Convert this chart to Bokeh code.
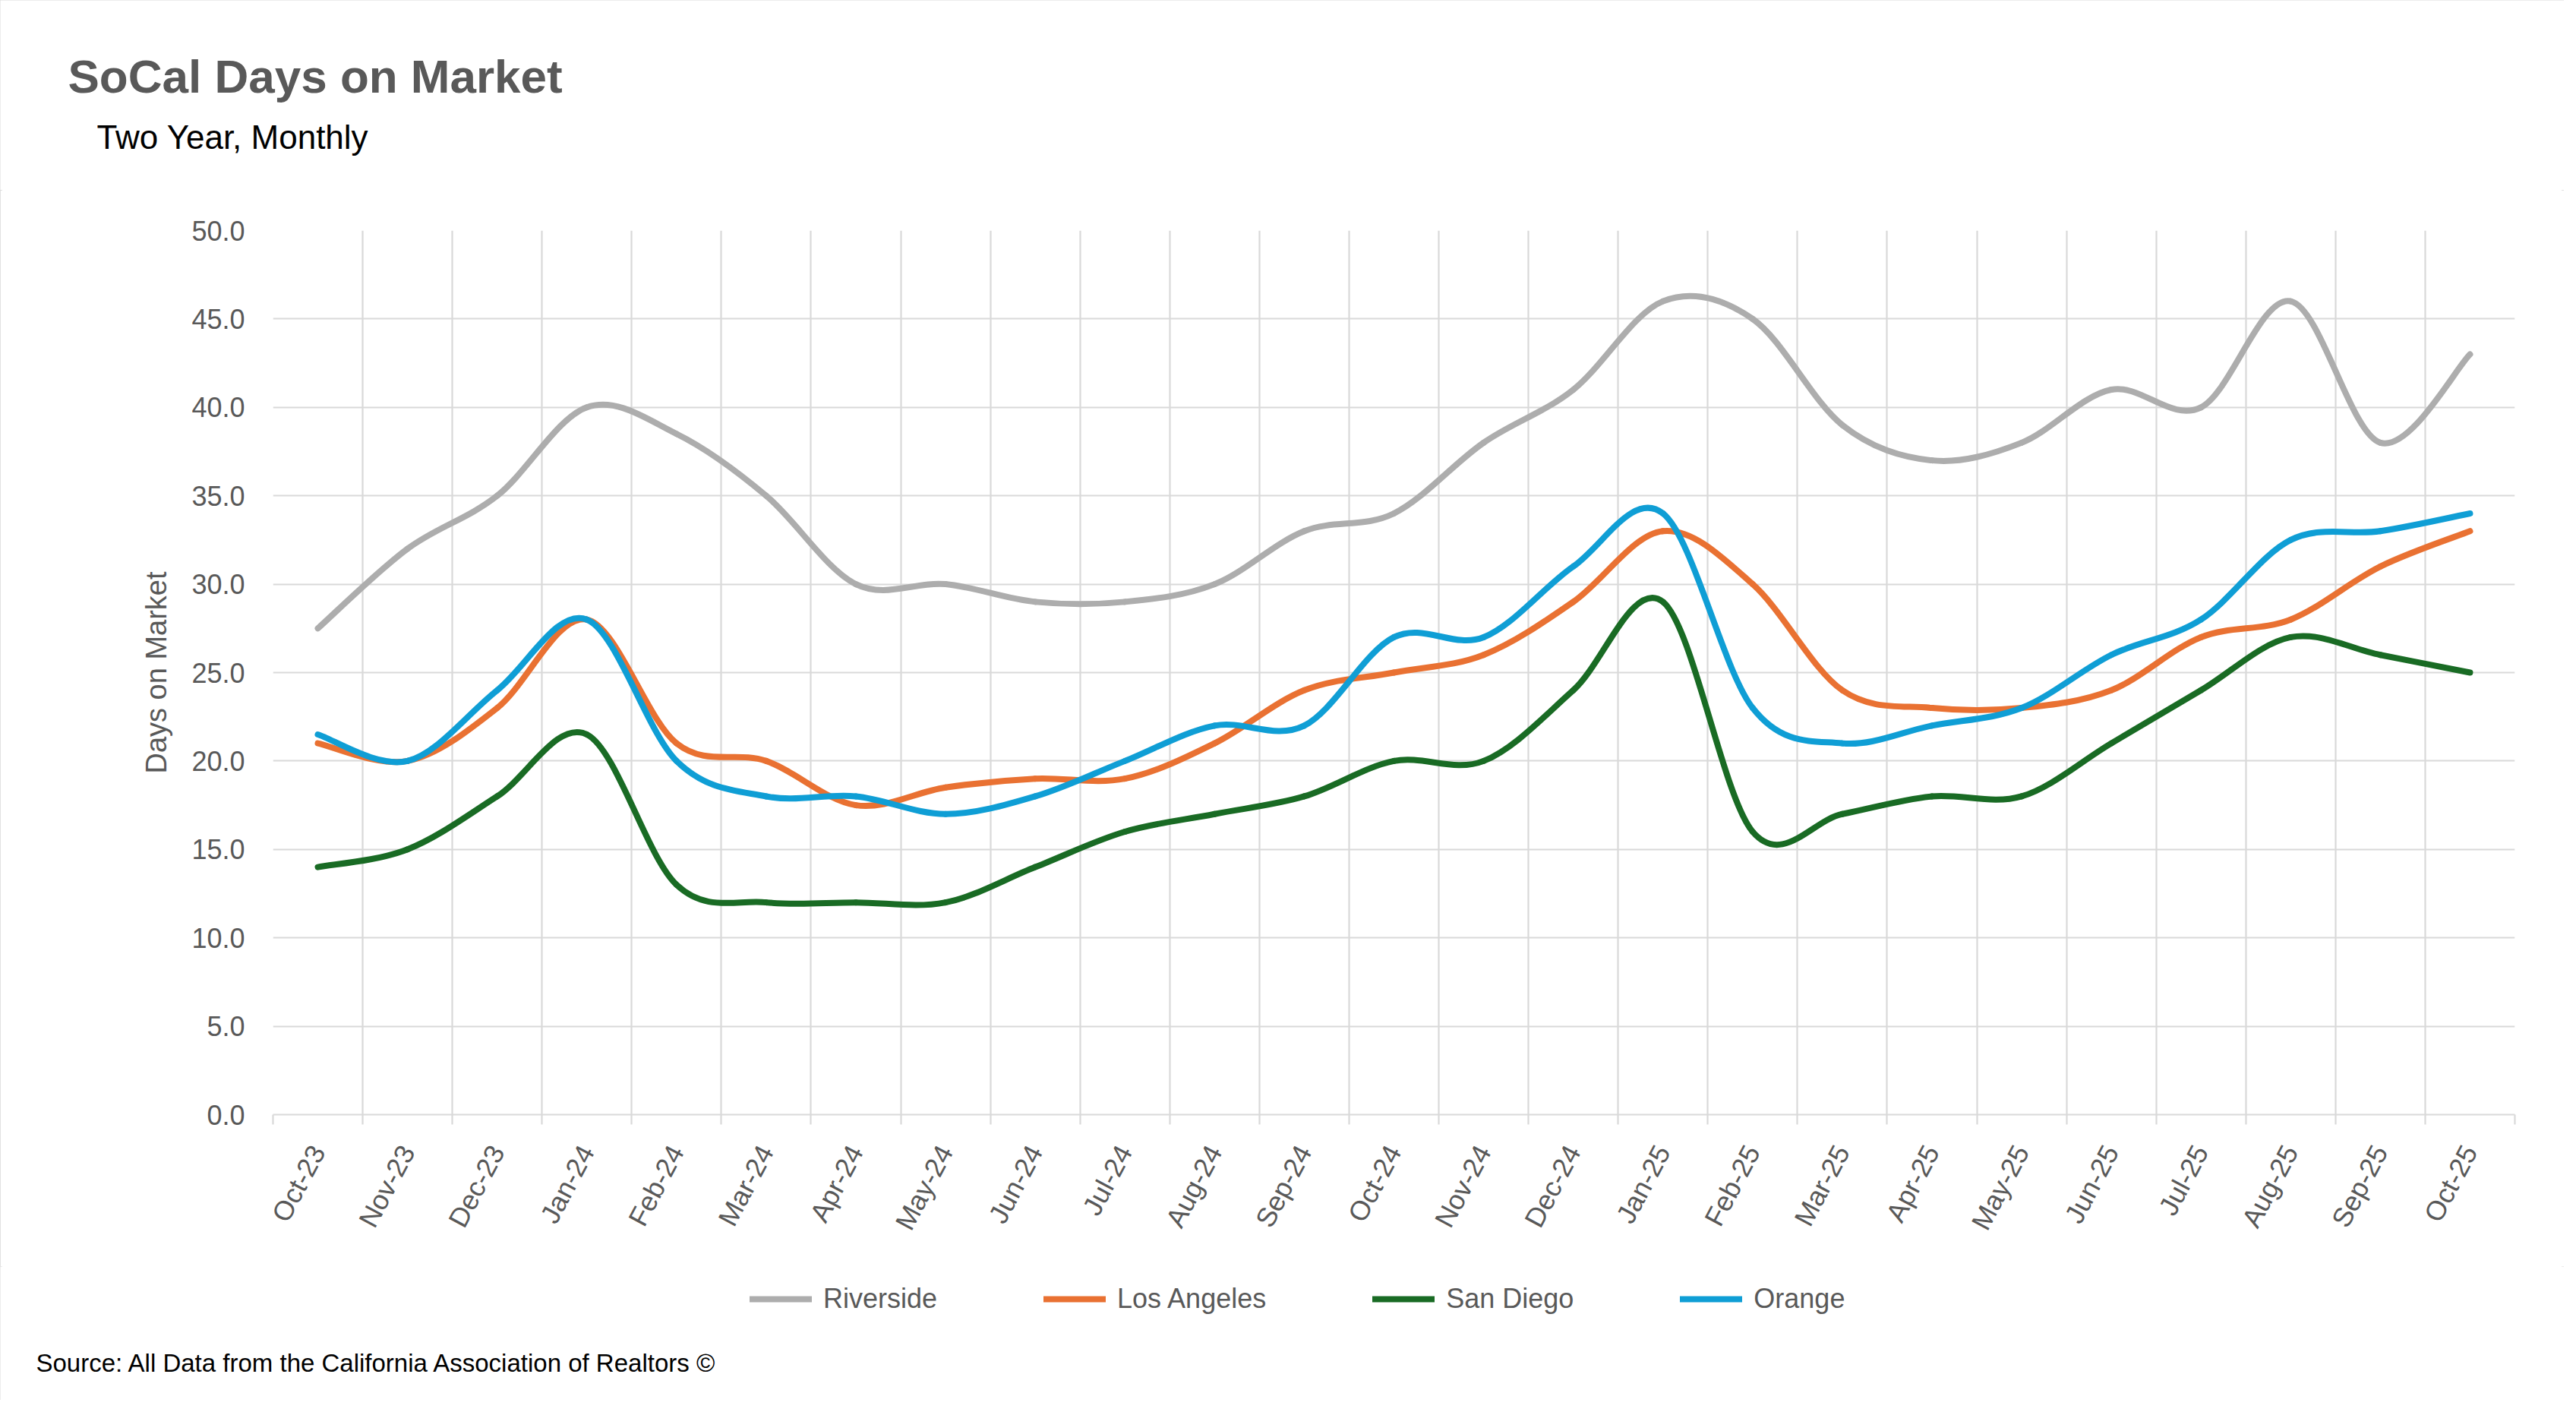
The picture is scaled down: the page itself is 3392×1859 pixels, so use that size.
import math
from bokeh.plotting import figure
from bokeh.layouts import column
from bokeh.models import (FixedTicker, Label, Legend, LegendItem, PrintfTickFormatter, Range1d)
from bokeh.embed import file_html
from bokeh.resources import INLINE

# ---------------- data ----------------
months = ["Oct-23", "Nov-23", "Dec-23", "Jan-24", "Feb-24", "Mar-24", "Apr-24", "May-24",
          "Jun-24", "Jul-24", "Aug-24", "Sep-24", "Oct-24", "Nov-24", "Dec-24", "Jan-25",
          "Feb-25", "Mar-25", "Apr-25", "May-25", "Jun-25", "Jul-25", "Aug-25", "Sep-25", "Oct-25"]

riverside = [27.5, 32, 35, 40, 38.5, 35, 30, 30, 29, 29, 30, 33, 34, 38, 41, 46,
             45, 39, 37, 38, 41, 40, 46, 38, 43]
los_angeles = [21, 20, 23, 28, 21, 20, 17.5, 18.5, 19, 19, 21, 24, 25, 26, 29, 33,
               30, 24, 23, 23, 24, 27, 28, 31, 33]
san_diego = [14, 15, 18, 21.5, 13, 12, 12, 12, 14, 16, 17, 18, 20, 20, 24, 29,
             16, 17, 18, 18, 21, 24, 27, 26, 25]
orange = [21.5, 20, 24, 28, 20, 18, 18, 17, 18, 20, 22, 22, 27, 27, 31, 34,
          23, 21, 22, 23, 26, 28, 32.5, 33, 34]

series_names = ["Riverside", "Los Angeles", "San Diego", "Orange"]
series_values = [riverside, los_angeles, san_diego, orange]
series_colors = ["#ADADAD", "#E97132", "#196B24", "#0F9ED5"]

y_ticks = [0, 5, 10, 15, 20, 25, 30, 35, 40, 45, 50]

title_text = "SoCal Days on Market"
subtitle_text = "Two Year, Monthly"
y_label_text = "Days on Market"
source_text = "Source: All Data from the California Association of Realtors \u00a9"

# ---------------- layout constants ----------------
FONT = "Liberation Sans"
GRID = "#D9D9D9"
TXT = "#595959"
W, H = 3376, 1843
HH = 250              # header height
TOP_GAP = 303 - HH    # main min_border_top (frame top at y = 303)
FRAME_H = 1164        # frame from y=303 to y=1467
BOTTOM = 200          # space for the x axis in the main figure
HM = TOP_GAP + FRAME_H + BOTTOM
FOOT_TOP = HH + HM
HF = H - FOOT_TOP
n = len(months)


def blank_fig(height, y0, y1):
    f = figure(width=W, height=height, output_backend="svg", toolbar_location=None,
               x_range=Range1d(0, W), y_range=Range1d(y1, y0),
               x_axis_location=None, y_axis_location=None, min_border=0)
    f.grid.visible = False
    f.outline_line_color = None
    f.background_fill_color = "white"
    f.border_fill_color = "white"
    f.title.text = ""
    f.title.text_font_size = "0px"
    f.title.standoff = 0
    f.frame_align = False
    return f


# ---------------- header ----------------
head = blank_fig(HH, 0, HH)
head.add_layout(Label(x=89, y=100, text=title_text, text_font=FONT, text_font_size="62px",
                      text_font_style="bold", text_color=TXT, text_align="left",
                      text_baseline="alphabetic"))
head.add_layout(Label(x=127, y=180, text=subtitle_text, text_font=FONT, text_font_size="44px",
                      text_color="black", text_align="left", text_baseline="alphabetic"))

# ---------------- main chart ----------------
p = figure(width=W, height=HM, output_backend="svg", toolbar_location=None,
           x_range=Range1d(0, n), y_range=Range1d(0, 50),
           min_border_left=359, min_border_right=65, min_border_top=TOP_GAP,
           min_border_bottom=BOTTOM)
p.outline_line_color = None
p.background_fill_color = "white"
p.border_fill_color = "white"
p.title.text = ""
p.title.text_font_size = "0px"
p.title.standoff = 0

p.xgrid.ticker = FixedTicker(ticks=list(range(n + 1)))
p.xgrid.grid_line_color = GRID
p.xgrid.grid_line_width = 2.2
p.ygrid.grid_line_color = GRID
p.ygrid.grid_line_width = 2.2

centers = [i + 0.5 for i in range(n)]
p.xaxis.ticker = FixedTicker(ticks=centers, minor_ticks=list(range(n + 1)))
p.xaxis.major_label_overrides = {c: m for c, m in zip(centers, months)}
p.xaxis.major_tick_line_color = None
p.xaxis.major_tick_out = 0
p.xaxis.major_tick_in = 0
p.xaxis.minor_tick_line_color = GRID
p.xaxis.minor_tick_line_width = 2.2
p.xaxis.minor_tick_out = 13
p.xaxis.minor_tick_in = 0
p.xaxis.axis_line_color = GRID
p.xaxis.axis_line_width = 2.2
p.xaxis.major_label_orientation = math.radians(62)
p.xaxis.major_label_standoff = 30
p.xaxis.major_label_text_font = FONT
p.xaxis.major_label_text_font_size = "36px"
p.xaxis.major_label_text_color = TXT

p.yaxis.ticker = FixedTicker(ticks=y_ticks)
p.yaxis.formatter = PrintfTickFormatter(format="%.1f")
p.yaxis.axis_line_color = None
p.yaxis.major_tick_line_color = None
p.yaxis.minor_tick_line_color = None
p.yaxis.major_tick_out = 0
p.yaxis.major_tick_in = 0
p.yaxis.major_label_standoff = 37
p.yaxis.major_label_text_font = FONT
p.yaxis.major_label_text_font_size = "36px"
p.yaxis.major_label_text_color = TXT
p.yaxis.axis_label = y_label_text
p.yaxis.axis_label_text_font = FONT
p.yaxis.axis_label_text_font_size = "38px"
p.yaxis.axis_label_text_font_style = "normal"
p.yaxis.axis_label_text_color = TXT
p.yaxis.axis_label_standoff = 22


# smoothed lines (Excel-like Catmull-Rom bezier through the data points)
def bezier_segments(xs, ys):
    m = len(xs)
    out = {k: [] for k in ("x0", "y0", "x1", "y1", "cx0", "cy0", "cx1", "cy1")}
    for i in range(m - 1):
        a = max(i - 1, 0)
        d = min(i + 2, m - 1)
        out["x0"].append(xs[i]); out["y0"].append(ys[i])
        out["x1"].append(xs[i + 1]); out["y1"].append(ys[i + 1])
        out["cx0"].append(xs[i] + (xs[i + 1] - xs[a]) / 6.0)
        out["cy0"].append(ys[i] + (ys[i + 1] - ys[a]) / 6.0)
        out["cx1"].append(xs[i + 1] - (xs[d] - xs[i]) / 6.0)
        out["cy1"].append(ys[i + 1] - (ys[d] - ys[i]) / 6.0)
    return out


for name, vals, col in zip(series_names, series_values, series_colors):
    seg = bezier_segments(centers, vals)
    p.bezier(x0=seg["x0"], y0=seg["y0"], x1=seg["x1"], y1=seg["y1"],
             cx0=seg["cx0"], cy0=seg["cy0"], cx1=seg["cx1"], cy1=seg["cy1"],
             line_color=col, line_width=8, line_cap="round")

# ---------------- footer: legend + source ----------------
foot = blank_fig(HF, FOOT_TOP, H)
items = []
for name, vals, col in zip(series_names, series_values, series_colors):
    # legend key: a single-point line (draws nothing by itself, gives the legend its swatch)
    key = foot.line(x=[centers[-1]], y=[vals[-1]], line_color=col, line_width=8,
                    line_cap="round")
    items.append(LegendItem(label=name, renderers=[key]))
legend = Legend(items=items, orientation="horizontal", location=(987, H - 1731),
                glyph_width=82, glyph_height=40, label_height=40, label_standoff=15,
                spacing=140, padding=0, margin=0, border_line_color=None,
                background_fill_alpha=0, label_text_font=FONT,
                label_text_font_size="36px", label_text_color=TXT)
foot.add_layout(legend)
foot.add_layout(Label(x=47, y=1794, text=source_text, text_font=FONT, text_font_size="33px",
                      text_color="black", text_align="left", text_baseline="alphabetic"))

layout = column(head, p, foot, spacing=0)
layout.styles = {"outline": "3px solid #D9D9D9", "outline-offset": "-3px"}
open("out.html", "w").write(file_html(layout, INLINE))
